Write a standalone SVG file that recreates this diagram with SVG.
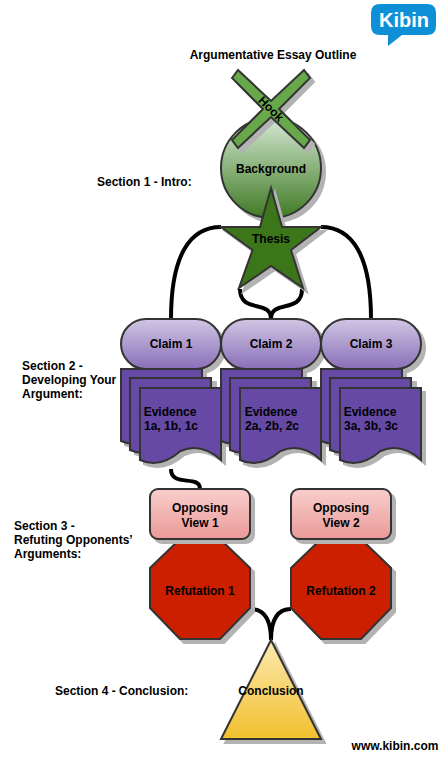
<svg xmlns="http://www.w3.org/2000/svg" width="440" height="759" viewBox="0 0 440 759">
<style>
text{font-family:"Liberation Sans",Arial,sans-serif;font-size:12px;font-weight:bold;fill:#000;text-anchor:middle}
.l{text-anchor:start}
.s{stroke:#333;stroke-width:2}
.sh{fill:#b3b3b3;stroke:#b3b3b3;stroke-width:2}
.c{fill:none;stroke:#000;stroke-width:4}
.doc{fill:#6549a5}
</style>
<defs>
<linearGradient id="gg" x1="0" y1="0" x2="0" y2="1"><stop offset="0" stop-color="#d5e8d4"/><stop offset="1" stop-color="#3f7a24"/></linearGradient>
<linearGradient id="pg" x1="0" y1="0" x2="0" y2="1"><stop offset="0" stop-color="#d0c6e4"/><stop offset="1" stop-color="#8a6fb8"/></linearGradient>
<linearGradient id="rg" x1="0" y1="0" x2="0" y2="1"><stop offset="0" stop-color="#f8cecc"/><stop offset="1" stop-color="#ea9a98"/></linearGradient>
<linearGradient id="yg" x1="0" y1="0" x2="0" y2="1"><stop offset="0" stop-color="#fbe9b0"/><stop offset="1" stop-color="#f2c02e"/></linearGradient>
<path id="docp" d="M0,0H81V72Q61,54 40.500,63Q20,81 0,72Z"/>
<path id="octp" d="M30,0H70L100,29V69L70,100H30L0,69V29Z"/>
<path id="starp" d="M271,188L282,227H321L291,250L303,288L271,266L239,288L252.500,250L221,227H260Z"/>
<path id="crossp" d="M232,78L238,70L271,101L304,70L310,78L279,109L310,140L304,148L271,117L238,148L232,140L263,109Z"/>
</defs>

<g id="connectors">
<path class="c" d="M221,227C190,227 171,255 171,319"/>
<path class="c" d="M321,227C352,227 371,255 371,319"/>
<path class="c" d="M240,289C240,314 271,299 271,319"/>
<path class="c" d="M302,289C302,314 271,299 271,319"/>
<path class="c" d="M171,469C171,488 200,474 200,489"/>
<path class="c" d="M250,609C266,609 271,622 271,640"/>
<path class="c" d="M291,609C276,609 271,622 271,640"/>
</g>

<g id="title"><text x="273" y="59">Argumentative Essay Outline</text></g>
<g id="sec1"><text class="l" x="97" y="186">Section 1 - Intro:</text></g>
<g id="sec2"><text class="l" x="22" y="370">Section 2 -</text><text class="l" x="22" y="384">Developing Your</text><text class="l" x="22" y="398">Argument:</text></g>
<g id="sec3"><text class="l" x="14" y="530">Section 3 -</text><text class="l" x="14" y="544">Refuting Opponents’</text><text class="l" x="14" y="558">Arguments:</text></g>
<g id="sec4"><text class="l" x="55" y="695">Section 4 - Conclusion:</text></g>
<g id="url"><text x="395" y="750" font-size="11">www.kibin.com</text></g>

<g id="background">
<circle class="sh" cx="275" cy="172" r="50"/>
<circle class="s" cx="271" cy="168" r="50" fill="url(#gg)"/>
<text x="271" y="173">Background</text>
</g>
<g id="hook">
<use href="#crossp" class="sh" x="4" y="4"/>
<use href="#crossp" class="s" fill="#67a94a"/>
<text x="271" y="113" transform="rotate(45 271 109)">Hook</text>
</g>
<g id="thesis">
<use href="#starp" class="sh" x="4" y="4"/>
<use href="#starp" class="s" fill="#3c761b"/>
<text x="271" y="243">Thesis</text>
</g>

<g id="claim1"><rect class="sh" x="125" y="323" width="100" height="50" rx="25"/><rect class="s" x="121" y="319" width="100" height="50" rx="25" fill="url(#pg)"/><text x="171" y="348">Claim 1</text></g>
<g id="claim2"><rect class="sh" x="225" y="323" width="100" height="50" rx="25"/><rect class="s" x="221" y="319" width="100" height="50" rx="25" fill="url(#pg)"/><text x="271" y="348">Claim 2</text></g>
<g id="claim3"><rect class="sh" x="325" y="323" width="100" height="50" rx="25"/><rect class="s" x="321" y="319" width="100" height="50" rx="25" fill="url(#pg)"/><text x="371" y="348">Claim 3</text></g>

<g id="evidence1">
<use href="#docp" class="sh" x="125" y="373"/><use href="#docp" class="s doc" x="121" y="369"/>
<use href="#docp" class="sh" x="135" y="382"/><use href="#docp" class="s doc" x="130" y="378"/>
<use href="#docp" class="sh" x="144" y="392"/><use href="#docp" class="s doc" x="140" y="388"/>
<text x="170" y="416">Evidence</text><text x="171" y="430">1a, 1b, 1c</text>
</g>
<g id="evidence2">
<use href="#docp" class="sh" x="225" y="373"/><use href="#docp" class="s doc" x="221" y="369"/>
<use href="#docp" class="sh" x="235" y="382"/><use href="#docp" class="s doc" x="230" y="378"/>
<use href="#docp" class="sh" x="244" y="392"/><use href="#docp" class="s doc" x="240" y="388"/>
<text x="271" y="416">Evidence</text><text x="272" y="430">2a, 2b, 2c</text>
</g>
<g id="evidence3">
<use href="#docp" class="sh" x="325" y="373"/><use href="#docp" class="s doc" x="321" y="369"/>
<use href="#docp" class="sh" x="335" y="382"/><use href="#docp" class="s doc" x="330" y="378"/>
<use href="#docp" class="sh" x="344" y="392"/><use href="#docp" class="s doc" x="340" y="388"/>
<text x="370" y="416">Evidence</text><text x="371" y="430">3a, 3b, 3c</text>
</g>

<g id="refutation1"><use href="#octp" class="sh" x="154" y="543"/><use href="#octp" class="s" fill="#cc1f00" x="150" y="539"/><text x="200" y="595">Refutation 1</text></g>
<g id="refutation2"><use href="#octp" class="sh" x="295" y="543"/><use href="#octp" class="s" fill="#cc1f00" x="291" y="539"/><text x="341" y="595">Refutation 2</text></g>

<g id="opposing1"><rect class="sh" x="154" y="493" width="100" height="50" rx="8"/><rect class="s" x="150" y="489" width="100" height="50" rx="8" fill="url(#rg)"/><text x="200" y="512">Opposing</text><text x="200" y="527">View 1</text></g>
<g id="opposing2"><rect class="sh" x="295" y="493" width="100" height="50" rx="8"/><rect class="s" x="291" y="489" width="100" height="50" rx="8" fill="url(#rg)"/><text x="341" y="512">Opposing</text><text x="341" y="527">View 2</text></g>

<g id="conclusion">
<path class="sh" d="M275,644L325,743H225Z"/>
<path class="s" fill="url(#yg)" d="M271,640L321,739H221Z"/>
<text x="271" y="695">Conclusion</text>
</g>

<g id="kibin">
<path fill="#0f8fd6" d="M380,4H427Q436,4 436,13V26Q436,35 427,35H402L388,46V35H380Q371,35 371,26V13Q371,4 380,4Z"/>
<text x="404" y="27" style="font-size:20px;fill:#fff">Kibin</text>
</g>
</svg>
